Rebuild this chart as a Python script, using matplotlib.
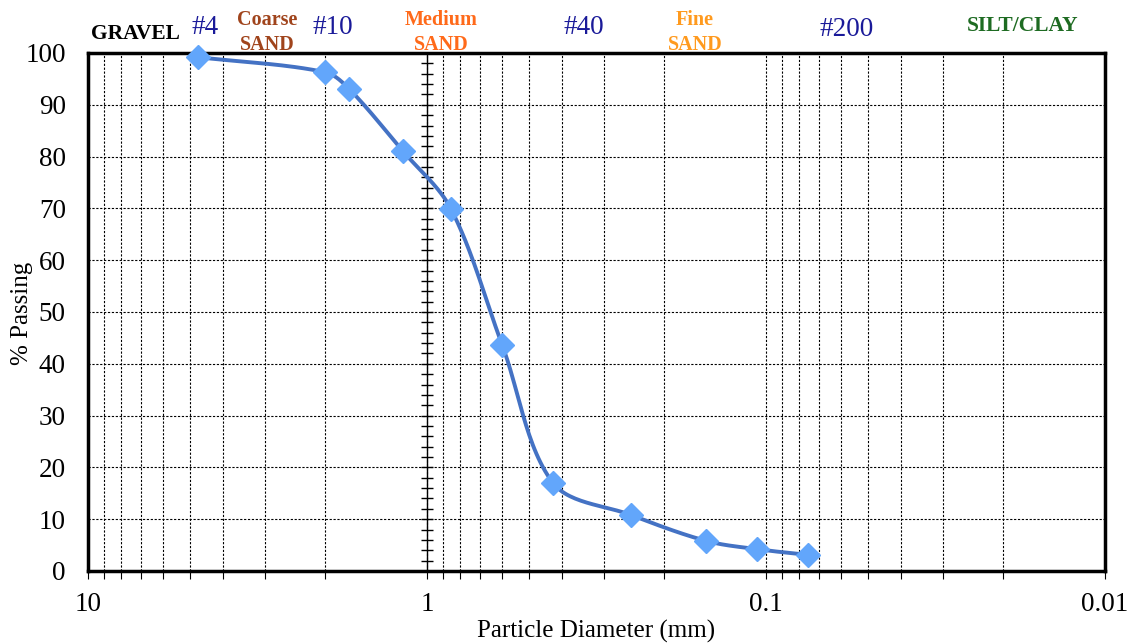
import matplotlib
matplotlib.use("Agg")
import matplotlib.pyplot as plt
import matplotlib.transforms as mtransforms
import numpy as np

plt.rcParams['font.family'] = ['Liberation Serif', 'DejaVu Serif']

# sieve data (grain size in mm, % passing)
diameter = [4.75, 2.0, 1.7, 1.18, 0.85, 0.6, 0.425, 0.25, 0.15, 0.106, 0.075]
passing = [99.2, 96.3, 93.1, 81.1, 69.9, 43.6, 17.0, 10.8, 5.8, 4.2, 3.1]

x_ticks = [10, 1, 0.1, 0.01]
x_ticklabels = ["10", "1", "0.1", "0.01"]
y_ticks = list(range(0, 101, 10))

# labels along the top edge: (text, x in mm, y in axes fraction, colour, bold, size)
top_labels = [
    ("GRAVEL", 7.27, 1.036, "black", True, 15.5),
    ("#4", 4.52, 1.050, "#1a1a99", False, 19.5),
    ("Coarse\nSAND", 2.96, 1.040, "#a0441c", True, 14.5),
    ("#10", 1.90, 1.050, "#1a1a99", False, 19.5),
    ("Medium\nSAND", 0.91, 1.040, "#ff6a1a", True, 14.5),
    ("#40", 0.345, 1.050, "#1a1a99", False, 19.5),
    ("Fine\nSAND", 0.162, 1.040, "#ff9a1e", True, 14.5),
    ("#200", 0.058, 1.046, "#1a1a99", False, 19.5),
    ("SILT/CLAY", 0.0175, 1.052, "#1e6b22", True, 15.5),
]


def smooth(xs, ys, n=30):
    # smoothed line through the points, chord-length bezier in screen space
    u = -np.log10(np.array(xs)) * 339.0
    v = np.array(ys) * 5.18
    P = np.column_stack([u, v])
    d = np.hypot(*np.diff(P, axis=0).T)
    m = len(P)
    tang = np.zeros_like(P)
    for i in range(m):
        if i == 0:
            tang[i] = (P[1] - P[0]) / d[0]
        elif i == m - 1:
            tang[i] = (P[-1] - P[-2]) / d[-1]
        else:
            tang[i] = (P[i + 1] - P[i - 1]) / (d[i - 1] + d[i])
    out = []
    t = np.linspace(0, 1, n)[:, None]
    for i in range(m - 1):
        p1, p2 = P[i], P[i + 1]
        c1 = p1 + tang[i] * d[i] / 3.0
        c2 = p2 - tang[i + 1] * d[i] / 3.0
        seg = ((1 - t) ** 3) * p1 + 3 * ((1 - t) ** 2) * t * c1 + 3 * (1 - t) * t ** 2 * c2 + t ** 3 * p2
        out.append(seg)
    out = np.vstack(out)
    return 10 ** (-out[:, 0] / 339.0), out[:, 1] / 5.18


fig = plt.figure(figsize=(11.33, 6.43), dpi=100)
ax = fig.add_axes([0.0777, 0.112, 0.8976, 0.8056])

ax.set_xscale('log')
ax.set_xlim(10, 0.01)
ax.set_ylim(0, 100)

ax.set_xticks(x_ticks)
ax.set_xticklabels(x_ticklabels)
ax.set_yticks(y_ticks)
ax.xaxis.set_minor_locator(matplotlib.ticker.LogLocator(base=10, subs=np.arange(2, 10)))
ax.xaxis.set_minor_formatter(matplotlib.ticker.NullFormatter())

ax.grid(True, which='both', axis='x', color='black', linestyle=(0, (2, 1.5)), linewidth=0.8)
ax.grid(True, which='major', axis='y', color='black', linestyle=(0, (2, 1.5)), linewidth=0.8)

ax.tick_params(axis='x', which='both', direction='out', length=6, width=0.8, labelsize=19.5, pad=9)
ax.tick_params(axis='y', which='both', length=0, labelsize=19.5, pad=16)

for s in ax.spines.values():
    s.set_linewidth(2.5)

# secondary vertical axis line at 1 mm with small ticks
tick_marks = np.arange(2, 100, 2)
ax.axvline(1, color='black', linewidth=1.0, zorder=2)
ax.plot(np.ones(len(tick_marks)), tick_marks, linestyle='none', marker='_', markersize=9,
        markeredgewidth=1.0, color='black', zorder=2)

xs, ys = smooth(diameter, passing)
ax.plot(xs, ys, color='#4472c4', linewidth=2.8, zorder=3, clip_on=False)
ax.plot(diameter, passing, linestyle='none', marker='D', markersize=12,
        color='#62a6fb', zorder=4, clip_on=False)

ax.set_xlabel("Particle Diameter (mm)", fontsize=18, labelpad=2)
fig.text(22 / 1133, 0.512, "% Passing", rotation=90, ha='center', va='center', fontsize=18)

trans = mtransforms.blended_transform_factory(ax.transData, ax.transAxes)
for txt, xpos, ypos, col, bold, size in top_labels:
    ax.text(xpos, ypos, txt, transform=trans, ha='center', va='center', color=col,
            fontsize=size, fontweight='bold' if bold else 'normal', linespacing=1.3)

fig.savefig("out.png", dpi=100)
